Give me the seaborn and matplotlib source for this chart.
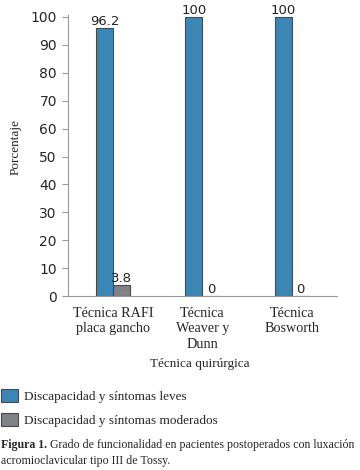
import pandas as pd
import seaborn as sns
import matplotlib.pyplot as plt

# Datos del gráfico
tecnicas = ['Técnica RAFI\nplaca gancho', 'Técnica\nWeaver y\nDunn', 'Técnica\nBosworth']
grupos = ['Discapacidad y síntomas leves', 'Discapacidad y síntomas moderados']
leves = [96.2, 100, 100]
moderados = [3.8, 0, 0]
colores = ['#3a87b5', '#808285']

df = pd.DataFrame({
    'Tecnica': tecnicas * 2,
    'Grupo': [grupos[0]] * 3 + [grupos[1]] * 3,
    'Porcentaje': leves + moderados,
})

sns.set_style('white')
serif = ['Liberation Serif', 'DejaVu Serif']
plt.rcParams['font.family'] = ['DejaVu Sans']

fig = plt.figure(figsize=(3.6, 4.7), dpi=100)
ax = fig.add_axes([0.189, 0.370, 0.747, 0.598])

sns.barplot(data=df, x='Tecnica', y='Porcentaje', hue='Grupo', palette=colores,
            saturation=1, width=0.38, edgecolor='#4a4a4a', linewidth=0.8,
            ax=ax, legend=True)

# Etiquetas de valor sobre las barras
for cont in ax.containers:
    ax.bar_label(cont, labels=[f'{v:g}' for v in cont.datavalues], padding=0,
                 fontsize=9.5, color='#222222')

ax.set_ylim(0, 100.7)
ax.set_xlim(-0.5, 2.5)
ax.set_yticks(range(0, 101, 10))
ax.tick_params(axis='y', left=True, length=4, width=0.8, color='#999999',
               labelsize=10, pad=4)
ax.tick_params(axis='x', bottom=False, labelsize=10.2, pad=4)
for lab in ax.get_xticklabels():
    lab.set_family(serif)
    lab.set_linespacing(1.25)

sns.despine(ax=ax, top=True, right=True)
ax.spines['left'].set_color('#999999')
ax.spines['bottom'].set_color('#999999')

ax.set_ylabel('Porcentaje', family=serif, fontsize=9.5)
ax.yaxis.set_label_coords(-0.171, 0.53)
ax.set_xlabel('')
fig.text(0.555, 0.226, 'Técnica quirúrgica', family=serif, fontsize=9.5,
         ha='center', va='center')

# Leyenda debajo del gráfico
handles, labels = ax.get_legend_handles_labels()
ax.get_legend().remove()
fig.legend(handles, labels, loc='upper left', bbox_to_anchor=(-0.012, 0.184),
           frameon=False, prop={'family': serif, 'size': 9.5},
           handlelength=1.3, handleheight=1.15, handletextpad=0.45,
           labelspacing=0.8, borderaxespad=0)

# Pie de figura
t1 = fig.text(0.004, 0.046, 'Figura 1.', fontsize=8.6, family=serif,
              weight='bold', ha='left', va='baseline')
ax.annotate(' Grado de funcionalidad en pacientes postoperados con luxación',
            xy=(1, 0), xycoords=t1, fontsize=8.6, family=serif,
            ha='left', va='bottom', annotation_clip=False)
fig.text(0.004, 0.012, 'acromioclavicular tipo III de Tossy.', fontsize=8.6,
         family=serif, ha='left', va='baseline')

fig.savefig('out.png', dpi=100)
